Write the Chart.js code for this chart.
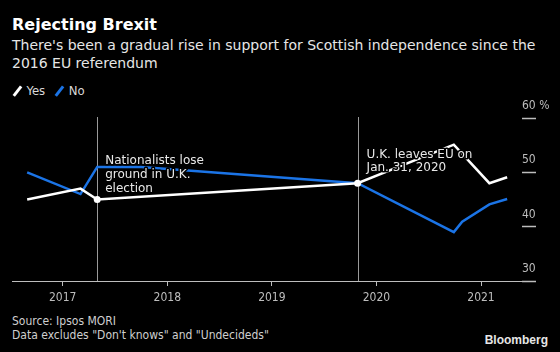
<!DOCTYPE html>
<html>
<head>
<meta charset="utf-8">
<script src="https://cdn.jsdelivr.net/npm/chart.js@4/dist/chart.umd.min.js"></script>
<style>
  body { margin: 0; background: #000; width: 560px; height: 352px; overflow: hidden; position: relative; font-family: "DejaVu Sans", sans-serif; }
  #title { position: absolute; left: 12px; top: 16px; color: #fff; font-weight: bold; font-size: 16px; line-height: 18px; }
  #subtitle { position: absolute; left: 12px; top: 37px; color: #e6e6e6; font-size: 14px; line-height: 17.5px; width: 548px; }
  #legend { position: absolute; left: 12px; top: 83px; color: #d9d9d9; font-family: "DejaVu Sans Condensed", sans-serif; font-size: 13px; line-height: 15px; }
  #legend span.item { margin-right: 9px; }
  #legend span.sw { display: inline-block; width: 2.5px; height: 12px; transform: rotate(38deg); margin: 0 8px -2px 4px; }
  #source { position: absolute; left: 12px; top: 315px; color: #cfcfcf; font-family: "DejaVu Sans Condensed", sans-serif; font-size: 12px; line-height: 13.5px; }
  #brand { position: absolute; right: 12px; top: 333px; color: #e6e6e6; font-family: "Liberation Sans", sans-serif; font-weight: bold; font-size: 12px; line-height: 14px; }
  #wrap { position: absolute; left: 0; top: 0; width: 560px; height: 352px; }
</style>
</head>
<body>
<div id="title">Rejecting Brexit</div>
<div id="subtitle">There's been a gradual rise in support for Scottish independence since the 2016 EU referendum</div>
<div id="legend"></div>
<div id="source">Source: Ipsos MORI<br>Data excludes "Don't knows" and "Undecideds"</div>
<div id="brand">Bloomberg</div>
<div id="wrap"><canvas id="chart" width="560" height="352"></canvas></div>
<script>
// poll dates as fractional years, values in %
const yesDates = [2016.66, 2017.17, 2017.33, 2019.82, 2020.74, 2021.08, 2021.25];
const yesValues = [45, 47, 45, 48, 55.1, 48, 49.1];
const noDates = [2016.66, 2017.17, 2017.33, 2017.75, 2019.82, 2020.74, 2020.82, 2021.08, 2021.25];
const noValues = [50, 46, 51, 51, 48, 39, 40.9, 44.1, 45.1];
const yearTicks = [2017, 2018, 2019, 2020, 2021];
const pctTicks = [30, 40, 50, 60];
const eventDates = [2017.33, 2019.82];
const eventNotes = [["Nationalists lose", "ground in U.K.", "election"], ["U.K. leaves EU on", "Jan. 31, 2020"]];

const yesColor = "#ffffff";
const noColor = "#1b74e6";
const axisColor = "#bdbdbd";

function toPoints(dates, values) {
    return dates.map((d, i) => ({x: d, y: values[i]}));
}

const eventLines = {
    id: "eventLines",
    beforeDatasetsDraw(chart) {
        const ctx = chart.ctx;
        const xs = chart.scales.x;
        const area = chart.chartArea;
        ctx.save();
        ctx.strokeStyle = "#9a9a9a";
        ctx.lineWidth = 1;
        eventDates.forEach(d => {
            const px = Math.round(xs.getPixelForValue(d)) + 0.5;
            ctx.beginPath();
            ctx.moveTo(px, area.top - 1);
            ctx.lineTo(px, area.bottom);
            ctx.stroke();
        });
        ctx.restore();
    },
    afterDatasetsDraw(chart) {
        const ctx = chart.ctx;
        const xs = chart.scales.x;
        const ys = chart.scales.y;
        ctx.save();
        ctx.font = "12px 'DejaVu Sans'";
        ctx.textBaseline = "alphabetic";
        const anchors = [{dx: 8, y: 51.5}, {dx: 9, y: 52.7}];
        eventDates.forEach((d, i) => {
            const px = xs.getPixelForValue(d) + anchors[i].dx;
            const py = ys.getPixelForValue(anchors[i].y);
            eventNotes[i].forEach((line, j) => {
                ctx.lineWidth = 3;
                ctx.strokeStyle = "#000";
                ctx.lineJoin = "round";
                ctx.strokeText(line, px, py + j * 13.7);
                ctx.fillStyle = "#e8e8e8";
                ctx.fillText(line, px, py + j * 13.7);
            });
        });
        ctx.restore();
    }
};

const chart = new Chart(document.getElementById("chart"), {
    type: "line",
    data: {
        datasets: [{
            label: "Yes",
            data: toPoints(yesDates, yesValues),
            borderColor: yesColor,
            backgroundColor: yesColor,
            borderWidth: 2.5,
            pointRadius: yesDates.map(d => eventDates.includes(d) ? 3.5 : 0),
            pointBorderWidth: 0,
            tension: 0
        }, {
            label: "No",
            data: toPoints(noDates, noValues),
            borderColor: noColor,
            backgroundColor: noColor,
            borderWidth: 2.5,
            pointRadius: 0,
            tension: 0
        }]
    },
    options: {
        responsive: false,
        animation: false,
        layout: {padding: {left: 12, top: 118, right: 0, bottom: 41}},
        plugins: {legend: {display: false}, tooltip: {enabled: false}},
        scales: {
            x: {
                type: "linear",
                min: 2016.515,
                max: 2021.392,
                afterBuildTicks: axis => { axis.ticks = yearTicks.map(v => ({value: v})); },
                afterFit: axis => { axis.height = 30; },
                ticks: {
                    color: axisColor,
                    font: {family: "DejaVu Sans Condensed", size: 12},
                    padding: 5,
                    callback: v => String(v)
                },
                grid: {drawOnChartArea: false, drawTicks: true, tickLength: 5, tickColor: axisColor},
                border: {display: true, color: axisColor, width: 1}
            },
            y: {
                position: "right",
                min: 30,
                max: 60,
                afterBuildTicks: axis => { axis.ticks = pctTicks.map(v => ({value: v})); },
                afterFit: axis => { axis.width = 38; },
                ticks: {
                    color: axisColor,
                    font: {family: "DejaVu Sans Condensed", size: 12},
                    padding: -14,
                    labelOffset: -12,
                    callback: v => v === 60 ? "60 %" : String(v)
                },
                grid: {drawOnChartArea: false, drawTicks: true, tickLength: 14, tickColor: axisColor, tickWidth: 1.5},
                border: {display: false}
            }
        }
    },
    plugins: [eventLines]
});

// legend from the datasets
const legend = document.getElementById("legend");
chart.data.datasets.forEach(ds => {
    const item = document.createElement("span");
    item.className = "item";
    const sw = document.createElement("span");
    sw.className = "sw";
    sw.style.background = ds.borderColor;
    item.appendChild(sw);
    item.appendChild(document.createTextNode(ds.label));
    legend.appendChild(item);
});
</script>
</body>
</html>
